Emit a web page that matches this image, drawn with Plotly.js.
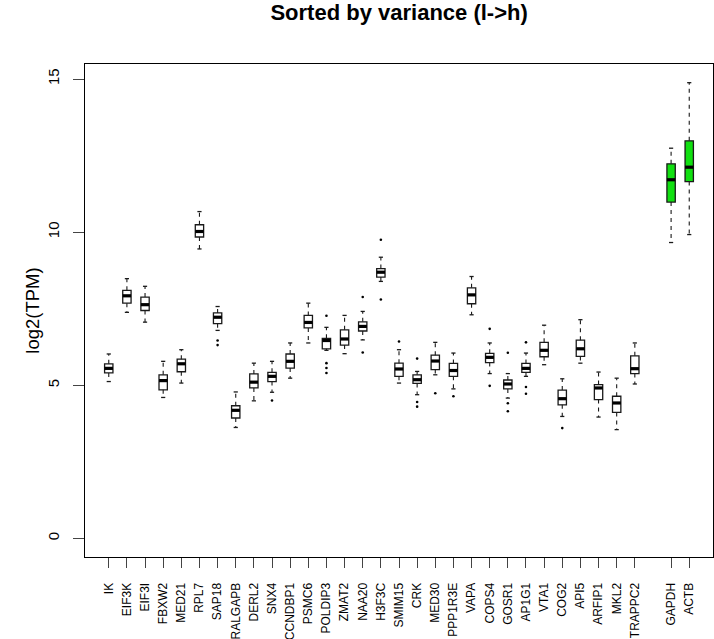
<!DOCTYPE html>
<html>
<head>
<meta charset="utf-8">
<script src="https://cdn.plot.ly/plotly-3.0.1.min.js"></script>
<style>
  html, body { margin: 0; padding: 0; background: #fff; }
  #chart { width: 714px; height: 639px; }
</style>
</head>
<body>
<div id="chart"></div>
<script>
// ---- data (log2 TPM) ----
const genes = ["IK","EIF3K","EIF3I","FBXW2","MED21","RPL7","SAP18","RALGAPB","DERL2","SNX4",
  "CCNDBP1","PSMC6","POLDIP3","ZMAT2","NAA20","H3F3C","SMIM15","CRK","MED30","PPP1R3E",
  "VAPA","COPS4","GOSR1","AP1G1","VTA1","COG2","API5","ARFIP1","MKL2","TRAPPC2","GAPDH","ACTB"];

const upperWhisker = [6.02,8.48,8.23,5.78,6.16,10.67,7.57,4.78,5.72,5.78,
  6.38,7.68,6.89,7.28,7.41,9.18,6.16,5.45,6.40,6.05,
  8.55,6.38,5.38,6.05,6.96,5.21,7.14,5.43,5.23,6.38,12.74,14.88];
const q3 = [5.70,8.10,7.88,5.34,5.85,10.24,7.36,4.33,5.37,5.42,
  6.02,7.28,6.53,6.81,7.07,8.81,5.72,5.34,5.98,5.71,
  8.18,6.04,5.17,5.71,6.40,4.84,6.47,5.02,4.64,5.96,12.23,12.98];
const medians = [5.55,7.92,7.63,5.15,5.70,10.02,7.22,4.18,5.10,5.29,
  5.78,7.05,6.46,6.51,6.92,8.69,5.53,5.18,5.79,5.48,
  7.95,5.91,5.04,5.55,6.14,4.56,6.19,4.91,4.42,5.54,11.71,12.12];
const q1 = [5.40,7.68,7.44,4.85,5.44,9.84,7.01,3.93,4.91,5.12,
  5.56,6.87,6.19,6.31,6.77,8.53,5.29,5.06,5.51,5.29,
  7.66,5.74,4.88,5.42,5.93,4.36,5.94,4.53,4.11,5.38,10.98,11.65];
const lowerWhisker = [5.12,7.38,7.06,4.60,5.07,9.45,6.79,3.62,4.49,4.77,
  5.23,6.38,6.14,6.03,6.48,8.39,5.07,4.69,5.34,4.88,
  7.30,5.38,4.58,5.29,5.67,3.98,5.72,3.96,3.55,5.04,9.66,9.92];
const outliers = [[],[],[],[],[],[],[6.46,6.31],[],[],[4.50],
  [],[],[7.27,5.72,5.56,5.40],[],[7.88,6.07],[9.75,7.80],[6.43],[5.87,4.45,4.30],[4.74],[4.64],
  [],[6.84,4.98],[6.06,4.41,4.15],[6.40,4.94,4.72],[],[3.60],[],[],[],[],[],[]];
const highlighted = ["GAPDH","ACTB"];
const yTicks = [0,5,10,15];

// ---- layout helpers ----
const nPlain = genes.length - highlighted.length;
const pos = genes.map((g, i) => i < nPlain ? i + 1 : i + 2);  // empty slot before controls
const boxW = 0.46, capW = boxW / 2;

function boxTrace(idx, fill) {
  return {
    type: 'box',
    x: idx.map(i => pos[i]),
    q1: idx.map(i => q1[i]),
    median: idx.map(i => medians[i]),
    q3: idx.map(i => q3[i]),
    lowerfence: idx.map(i => q1[i]),
    upperfence: idx.map(i => q3[i]),
    width: boxW,
    whiskerwidth: 0,
    fillcolor: fill,
    line: {color: '#1a1a1a', width: 1.3},
    hoverinfo: 'skip',
    showlegend: false
  };
}
const allIdx = genes.map((g, i) => i);
const plainIdx = allIdx.filter(i => !highlighted.includes(genes[i]));
const hiIdx = allIdx.filter(i => highlighted.includes(genes[i]));

// whiskers (dashed), caps, medians
const wx = [], wy = [], cx = [], cy = [], mx = [], my = [];
allIdx.forEach(i => {
  wx.push(pos[i], pos[i], null, pos[i], pos[i], null);
  wy.push(q3[i], upperWhisker[i], null, q1[i], lowerWhisker[i], null);
  cx.push(pos[i] - capW/2, pos[i] + capW/2, null, pos[i] - capW/2, pos[i] + capW/2, null);
  cy.push(upperWhisker[i], upperWhisker[i], null, lowerWhisker[i], lowerWhisker[i], null);
  mx.push(pos[i] - boxW/2, pos[i] + boxW/2, null);
  my.push(medians[i], medians[i], null);
});
const ox = [], oy = [];
outliers.forEach((arr, i) => arr.forEach(v => { ox.push(pos[i]); oy.push(v); }));

const data = [
  {type:'scatter', mode:'lines', x: wx, y: wy, line:{color:'#1a1a1a', width:1.1, dash:'4px,4px'}, hoverinfo:'skip', showlegend:false},
  {type:'scatter', mode:'lines', x: cx, y: cy, line:{color:'#1a1a1a', width:1.3}, hoverinfo:'skip', showlegend:false},
  boxTrace(plainIdx, '#ffffff'),
  boxTrace(hiIdx, '#11e011'),
  {type:'scatter', mode:'lines', x: mx, y: my, line:{color:'#000', width:3.2}, hoverinfo:'skip', showlegend:false},
  {type:'scatter', mode:'markers', x: ox, y: oy, marker:{color:'#000', size:2.6}, hoverinfo:'skip', showlegend:false}
];

const layout = {
  width: 714, height: 639,
  margin: {l: 85, r: 1, t: 64, b: 82, pad: 0},
  paper_bgcolor: '#fff', plot_bgcolor: '#fff',
  font: {family: 'Liberation Sans, Arial, sans-serif', color: '#000'},
  title: {text: '<b>Sorted by variance (l->h)</b>', font: {size: 22, color: '#000'},
          x: 0.559, xanchor: 'center', y: 0.981, yanchor: 'middle'},
  xaxis: {
    range: [-0.31, 34.31], tickmode: 'array', tickvals: pos, ticktext: genes,
    tickangle: -90, tickfont: {size: 12}, ticks: 'outside', ticklen: 10, tickcolor: '#444',
    ticklabelstandoff: 10,
    showgrid: false, zeroline: false, showline: true, mirror: true, linecolor: '#000', linewidth: 1
  },
  yaxis: {
    range: [-0.61, 15.49], tickmode: 'array', tickvals: yTicks, ticktext: yTicks.map(String),
    tickangle: -90, tickfont: {size: 15}, ticks: 'outside', ticklen: 11, tickcolor: '#444',
    ticklabelstandoff: 8,
    showgrid: false, zeroline: false, showline: true, mirror: true, linecolor: '#000', linewidth: 1,
    title: {text: 'log2(TPM)', font: {size: 18.5}, standoff: 0}
  }
};

Plotly.newPlot('chart', data, layout, {displayModeBar: false, staticPlot: true});
</script>
</body>
</html>
